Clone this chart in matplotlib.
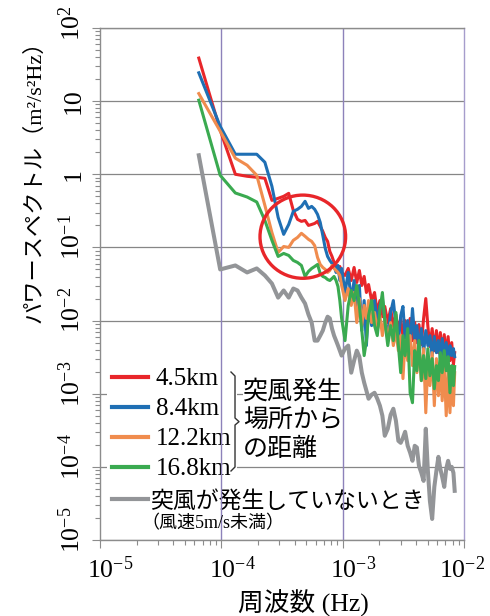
import numpy as np
import matplotlib
matplotlib.use("Agg")
import matplotlib.pyplot as plt
from matplotlib.lines import Line2D
from matplotlib.patches import Ellipse
from matplotlib.transforms import ScaledTranslation
from matplotlib.ticker import LogLocator, NullFormatter

plt.rcParams["font.family"] = ["Liberation Serif", "Noto Sans CJK JP"]
plt.rcParams["mathtext.fontset"] = "custom"
plt.rcParams["mathtext.rm"] = "Liberation Serif"
plt.rcParams["mathtext.it"] = "Liberation Serif:italic"
plt.rcParams["mathtext.bf"] = "Liberation Serif:bold"

# Spectral line index k; frequency = k / record length
harmonic = [2, 3, 4, 5, 6, 7, 8, 9, 10, 11, 12, 13, 14, 15, 16, 17, 18, 19, 20,
            21, 22, 23, 24, 25, 26, 27, 28, 29, 30,
            32, 34, 36, 38, 40, 42, 44, 46, 48, 50, 53, 56, 59, 62, 65, 68, 72,
            76, 80, 84, 88, 92, 96, 100, 105, 110, 115, 120, 125, 130, 136, 142,
            148, 154, 160, 167, 174, 181, 188, 195, 202, 210, 218, 226, 234, 242,
            250, 256]
record_seconds = 30720.0

# Power spectral density (m^2/s^2Hz) by distance from the gust origin
psd_4_5km = [38.8, 4.01, 1.00, 0.939, 0.910, 0.882, 0.440, 0.469, 0.500, 0.549,
             0.321, 0.242, 0.227, 0.234, 0.200, 0.206, 0.213, 0.227, 0.194, 0.166,
             0.137, 0.121, 0.088, 0.0753, 0.0623, 0.0549, 0.0516, 0.0549, 0.0455,
             0.0414, 0.0516, 0.0353, 0.0532, 0.0332, 0.0484, 0.0302, 0.0401, 0.0242,
             0.0311, 0.0188, 0.0242, 0.0129, 0.0188, 0.0113, 0.0156, 0.00939, 0.0146,
             0.00828, 0.0121, 0.00686, 0.0107, 0.00604, 0.0100, 0.00567, 0.0107,
             0.00532, 0.00939, 0.00500, 0.00882, 0.00470, 0.0107, 0.0200, 0.00828,
             0.00441, 0.00777, 0.00388, 0.00730, 0.00364, 0.00686, 0.00342, 0.00643,
             0.00321, 0.00604, 0.00283, 0.00500, 0.00250, 0.00364]

psd_8_4km = [24.4, 4.54, 1.88, 1.88, 1.88, 1.46, 0.685, 0.258, 0.151, 0.206,
             0.311, 0.332, 0.364, 0.427, 0.342, 0.364, 0.332, 0.283, 0.220, 0.146,
             0.0969, 0.0753, 0.0664, 0.0604, 0.0567, 0.0455, 0.0567, 0.0353, 0.0516,
             0.0242, 0.0455, 0.0188, 0.0353, 0.0129, 0.0302, 0.00730, 0.0188, 0.00455,
             0.0161, 0.00854, 0.0188, 0.00939, 0.0161, 0.0200, 0.0107, 0.00623, 0.0129,
             0.0188, 0.00854, 0.00500, 0.0117, 0.0156, 0.00567, 0.0100, 0.00455,
             0.0146, 0.00567, 0.00854, 0.00388, 0.00777, 0.00364, 0.00730, 0.00455,
             0.00623, 0.00332, 0.00604, 0.00364, 0.00532, 0.00302, 0.00567, 0.00321,
             0.00500, 0.00283, 0.00455, 0.00332, 0.00414, 0.00321]

psd_12_2km = [12.7, 3.88, 1.66, 1.33, 0.969, 0.376, 0.160, 0.0854, 0.103, 0.100,
              0.125, 0.137, 0.156, 0.142, 0.129, 0.121, 0.106, 0.0730, 0.0585, 0.0532,
              0.0500, 0.0455, 0.0484, 0.0567, 0.0516, 0.0484, 0.0455, 0.0414, 0.0302,
              0.0188, 0.0274, 0.0161, 0.0242, 0.00939, 0.0200, 0.00854, 0.0161, 0.0107,
              0.0188, 0.00939, 0.0129, 0.00730, 0.0117, 0.00623, 0.0107, 0.00532,
              0.00939, 0.00455, 0.00730, 0.00388, 0.00623, 0.00161, 0.00532, 0.00283,
              0.00623, 0.00242, 0.00532, 0.00194, 0.00455, 0.00151, 0.00414, 0.000549,
              0.00283, 0.00129, 0.00364, 0.000686, 0.00302, 0.000939, 0.00266,
              0.000802, 0.00242, 0.000500, 0.00206, 0.000549, 0.00220, 0.000686,
              0.00194]

psd_16_8km = [10.3, 0.969, 0.555, 0.489, 0.418, 0.234, 0.125, 0.0753, 0.0828, 0.0777,
              0.0664, 0.0623, 0.0567, 0.0401, 0.0470, 0.0516, 0.0549, 0.0585, 0.0441,
              0.0401, 0.0388, 0.0364, 0.0353, 0.0376, 0.0401, 0.0353, 0.0292, 0.0188,
              0.0107,
              0.00532, 0.0161, 0.0258, 0.0188, 0.0302, 0.0161, 0.00730, 0.00332,
              0.00532, 0.0117, 0.0188, 0.00854, 0.00623, 0.0137, 0.0242, 0.0100,
              0.00455, 0.00854, 0.00532, 0.0129, 0.00455, 0.00194, 0.00623, 0.00332,
              0.00777, 0.00103, 0.000753, 0.00388, 0.00206, 0.00532, 0.00151, 0.00332,
              0.00161, 0.00414, 0.00176, 0.00302, 0.00117, 0.00242, 0.00151, 0.00364,
              0.00194, 0.00388, 0.00206, 0.00321, 0.00103, 0.00242, 0.00129, 0.00235]

psd_calm = [1.82, 0.0500, 0.0567, 0.0455, 0.0516, 0.0414, 0.0321, 0.0206, 0.0258,
            0.0206, 0.0274, 0.0258, 0.0206, 0.0171, 0.0121, 0.00939, 0.00532, 0.00532,
            0.00623, 0.00730, 0.00939, 0.0113, 0.0107, 0.00777, 0.00623, 0.00532,
            0.00455, 0.00388, 0.00332,
            0.00414, 0.00455, 0.00194, 0.00283, 0.00388, 0.00321, 0.00194, 0.00142,
            0.00110, 0.000854, 0.000969, 0.00103, 0.000854, 0.000686, 0.000500,
            0.000266, 0.000332, 0.000516, 0.000623, 0.000427, 0.000227, 0.000213,
            0.000250, 0.000302, 0.000194, 0.000156, 0.000121, 0.000194, 0.000184,
            0.000103, 8.28e-5, 6.43e-5, 0.000332, 8.82e-5, 3.42e-5, 1.94e-5, 5.32e-5,
            8.82e-5, 0.000137, 9.39e-5, 7.30e-5, 5.32e-5, 9.39e-5, 0.000121, 9.39e-5,
            0.000100, 8.28e-5, 4.70e-5]

distance_labels = ["4.5km", "8.4km", "12.2km", "16.8km"]
calm_label = "突風が発生していないとき"
calm_note = "（風速5m/s未満）"
group_label = ["突風発生", "場所から", "の距離"]

x_ticks = [1e-5, 1e-4, 1e-3, 1e-2]
x_tick_labels = [r"$10^{-5}$", r"$10^{-4}$", r"$10^{-3}$", r"$10^{-2}$"]
y_ticks = [1e-5, 1e-4, 1e-3, 1e-2, 1e-1, 1, 10, 1e2]
y_tick_labels = [r"$10^{-5}$", r"$10^{-4}$", r"$10^{-3}$", r"$10^{-2}$",
                 r"$10^{-1}$", "1", "10", r"$10^{2}$"]

RED = "#e8262a"
BLUE = "#1f6fb4"
ORANGE = "#f08c4e"
GREEN = "#3aaa50"
GRAY = "#939598"
AXIS_GRAY = "#8c8c8c"
GRID_GRAY = "#868686"
GRID_PURPLE = "#8d82ba"

freq = np.array(harmonic, dtype=float) / record_seconds

fig = plt.figure(figsize=(4.9, 6.16), dpi=100)
ax = fig.add_axes([100 / 490, 76 / 616, 364.3 / 490, 512 / 616])
ax.set_xscale("log")
ax.set_yscale("log")

gray_line, = ax.plot(freq, psd_calm, color=GRAY, lw=2.9, zorder=2.0)
red_line, = ax.plot(freq, psd_4_5km, color=RED, lw=2.2, zorder=2.1)
blue_line, = ax.plot(freq, psd_8_4km, color=BLUE, lw=2.2, zorder=2.2)
orange_line, = ax.plot(freq, psd_12_2km, color=ORANGE, lw=2.2, zorder=2.3)
green_line, = ax.plot(freq, psd_16_8km, color=GREEN, lw=2.2, zorder=2.4)

# Axes frame, ticks and grid
for side in ("left", "bottom", "top"):
    ax.spines[side].set_color(AXIS_GRAY)
    ax.spines[side].set_linewidth(1.0)
ax.spines["right"].set_color("#a69dcc")
ax.spines["right"].set_linewidth(1.0)

ax.set_xticks(x_ticks, x_tick_labels)
ax.set_yticks(y_ticks, y_tick_labels)
for axis in (ax.xaxis, ax.yaxis):
    axis.set_minor_locator(LogLocator(base=10, subs=np.arange(2, 10), numticks=60))
    axis.set_minor_formatter(NullFormatter())
ax.set_xlim(1e-5, 1e-2)
ax.set_ylim(1e-5, 1e2)

ax.tick_params(which="both", direction="out", color=AXIS_GRAY, width=0.8)
ax.tick_params(which="major", length=5.5)
ax.tick_params(which="minor", length=3.5)
ax.tick_params(axis="x", which="major", pad=6.5, labelsize=18.5)
ax.tick_params(axis="y", which="major", pad=9, labelsize=18.5)

ax.set_axisbelow(True)
ax.yaxis.grid(True, which="major", color=GRID_GRAY, lw=0.9)
for xv in x_ticks[1:3]:
    ax.axvline(xv, color=GRID_PURPLE, lw=1.0, zorder=1.8)

# Center the "10" base of each tick label on its tick
digit_px = 18.5 * 100 / 72 * 0.5
xlabels = ax.get_xticklabels()
for i, lab in enumerate(xlabels):
    shift = digit_px + (12 if i == len(xlabels) - 1 else 0)
    lab.set_ha("left")
    lab.set_transform(lab.get_transform()
                      + ScaledTranslation(-shift / 100, 0, fig.dpi_scale_trans))
for lab, text in zip(ax.get_yticklabels(), y_tick_labels):
    half = digit_px / 2 if text == "1" else digit_px
    lab.set_rotation(90)
    lab.set_rotation_mode("anchor")
    lab.set_ha("left")
    lab.set_va("baseline")
    lab.set_transform(lab.get_transform()
                      + ScaledTranslation(0, -half / 100, fig.dpi_scale_trans))

ax.set_xlabel("周波数 (Hz)", fontsize=18.5, va="center")
ax.xaxis.set_label_coords(0.557, -0.123)
ax.set_ylabel("パワースペクトル（m²/s²Hz）", fontsize=16, va="center")
ax.yaxis.set_label_coords(-0.18, 0.71)

# Legends
leg1 = ax.legend(handles=[red_line, blue_line, orange_line, green_line],
                 labels=distance_labels, loc="upper left",
                 bbox_to_anchor=(0.0192, 0.346), borderaxespad=0, borderpad=0.2,
                 handlelength=1.44, handletextpad=0.32, labelspacing=0.3,
                 fontsize=18, frameon=True, fancybox=False, framealpha=1,
                 facecolor="white", edgecolor="none")
leg1.set_zorder(1.5)
for h in leg1.legend_handles:
    h.set_linewidth(3.0)
ax.add_artist(leg1)

leg2 = ax.legend(handles=[gray_line], labels=[calm_label], loc="upper left",
                 bbox_to_anchor=(0.0329, 0.0966), borderaxespad=0, borderpad=0,
                 handlelength=1.57, handletextpad=0.1, fontsize=16.5, frameon=False)
leg2.set_zorder(1.5)
for h in leg2.legend_handles:
    h.set_linewidth(3.0)

ax.text(0.115, 0.031, calm_note, transform=ax.transAxes, fontsize=13,
        ha="left", va="center", zorder=3)

for txt, yfrac in zip(group_label, [0.289, 0.2324, 0.1777]):
    ax.text(0.3925, yfrac, txt, transform=ax.transAxes, fontsize=18,
            ha="left", va="center", zorder=1.6,
            bbox=dict(fc="white", ec="none", pad=0))

# Brace grouping the distance entries
brace_x = [0.3596, 0.3706, 0.3706, 0.3816, 0.3706, 0.3706, 0.3596]
brace_y = [0.3281, 0.3203, 0.2383, 0.2311, 0.2246, 0.1426, 0.1348]
ax.add_artist(Line2D(brace_x, brace_y, transform=ax.transAxes,
                     color="#333333", lw=1.0, zorder=3))

# Highlight of the 2-3e-4 Hz energy bump
ax.add_artist(Ellipse((0.5567, 0.5924), 0.235, 0.1625, transform=ax.transAxes,
                      fill=False, ec=RED, lw=2.4, zorder=5))

fig.savefig("out.png", dpi=100)
